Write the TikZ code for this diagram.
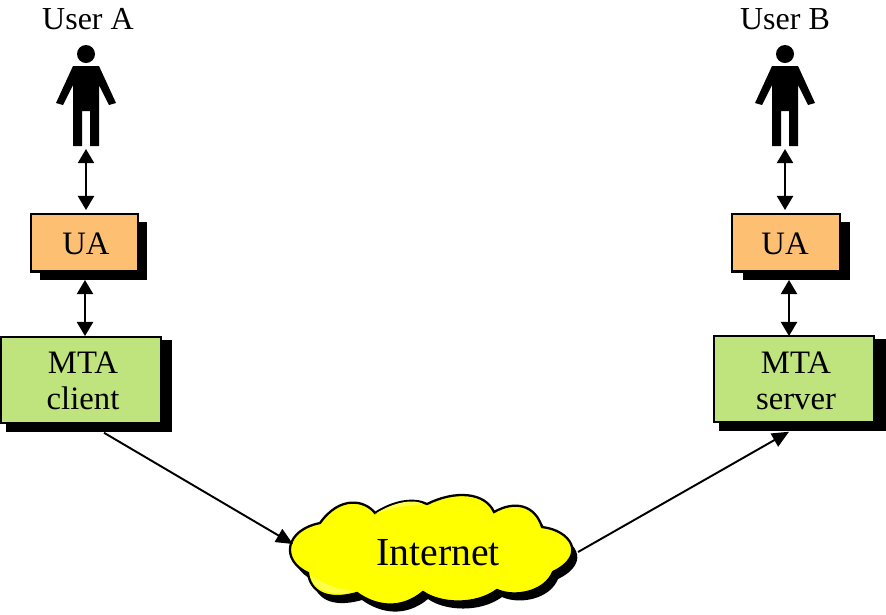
\documentclass[tikz,border=0pt]{standalone}
\usepackage{fontspec}
\setmainfont{Liberation Serif}
\usetikzlibrary{positioning,calc,arrows.meta}
\definecolor{uaorange}{HTML}{FDBF71}
\definecolor{mtagreen}{HTML}{BFE37D}
\definecolor{cloudyellow}{HTML}{FFFF00}
\definecolor{paleyellow}{HTML}{FFFF4D}
\tikzset{font=\fontsize{9.3}{10.2}\selectfont}
\tikzset{
	agentbox/.style={draw, line width=0.6pt, fill=uaorange, inner sep=0pt},
	mtabox/.style={draw, line width=0.6pt, fill=mtagreen, inner sep=0pt},
	shadowbox/.style={fill=black, inner sep=0pt},
	boxtext/.style={align=center, inner sep=0pt},
	link/.style={line width=0.5pt, {Triangle[length=4pt,width=4.6pt]}-{Triangle[length=4pt,width=4.6pt]}},
	netlink/.style={line width=0.55pt, -{Triangle[length=4.8pt,width=4.2pt]}},
	person/.pic={
		\fill (0,-32) circle (9);
		\fill (-13,-20) -- (-30,17) -- (-23,19) -- (-13,-1) -- (-13,60) -- (-4,60) -- (-4,25)
			-- (4,25) -- (4,60) -- (13,60) -- (13,-1) -- (23,19) -- (30,17) -- (13,-20) -- cycle;
	}
}
\newcommand{\cloudoutline}{
	(320,523) .. controls (340,495) and (365,500) .. (375,513)
	.. controls (395,500) and (415,498) .. (427,504)
	.. controls (455,490) and (485,492) .. (494,512)
	.. controls (515,500) and (535,505) .. (542,527)
	.. controls (570,530) and (588,555) .. (553,572)
	.. controls (545,592) and (515,598) .. (497,590)
	.. controls (475,606) and (440,604) .. (423,592)
	.. controls (400,611) and (375,606) .. (357,593)
	.. controls (325,602) and (310,590) .. (308,573)
	.. controls (280,560) and (285,530) .. (320,523) -- cycle
}

\begin{document}
\begin{tikzpicture}[x=0.01cm, y=-0.01cm]
	\useasboundingbox (0,0) rectangle (886,614);

	% users
	\node [font=\fontsize{9.1}{10}\selectfont] (usera) at (88,19) {User A};
	\node [font=\fontsize{9.1}{10}\selectfont] (userb) at (785,19) {User B};
	\pic at (86,86) {person};
	\pic at (785,86) {person};
	\coordinate (feeta) at (86,149);
	\coordinate (feetb) at (785,149);

	% shadows first
	\node [shadowbox, minimum width=1.065cm, minimum height=0.58cm] (uaashadow) at (93.25,251) {};
	\node [shadowbox, minimum width=1.07cm, minimum height=0.58cm] (uabshadow) at (796.5,251) {};
	\node [shadowbox, minimum width=1.66cm, minimum height=0.92cm] (mtaashadow) at (89,386) {};
	\node [shadowbox, minimum width=1.67cm, minimum height=0.92cm] (mtabshadow) at (802.5,385) {};

	% boxes
	\node [agentbox, minimum width=1.07cm, minimum height=0.575cm] (uaa) at (84.5,242.75) {};
	\node [agentbox, minimum width=1.08cm, minimum height=0.575cm] (uab) at (786,242.75) {};
	\node [mtabox, minimum width=1.6cm, minimum height=0.86cm] (mtaa) at (81,380) {};
	\node [mtabox, minimum width=1.6cm, minimum height=0.86cm] (mtab) at (794,379) {};
	\node [boxtext] (uaatext) at (86,244) {UA};
	\node [boxtext] (uabtext) at (785,244) {UA};
	\node [boxtext] (mtaatext) at (83,381) {MTA\\client};
	\node [boxtext] (mtabtext) at (796,381) {MTA\\server};

	% internet cloud
	\fill [shift={(5,7)}] \cloudoutline;
	\draw [line width=0.65pt, fill=cloudyellow] \cloudoutline;
	\fill [paleyellow] (375,514) .. controls (395,501) and (415,499) .. (423,504) .. controls (400,506) and (385,510) .. (375,514) -- cycle;
	\fill [paleyellow] (310,575) .. controls (325,585) and (340,590) .. (355,591) .. controls (335,597) and (315,592) .. (310,575) -- cycle;
	\node [font=\fontsize{11.3}{14}\selectfont] (internet) at (438,553) {Internet};
	\coordinate (cloudin) at (293,544);
	\coordinate (cloudout) at (578,552);

	% connectors
	\draw [link] (feeta) to (86,210);
	\draw [link] (feetb) to (785,210);
	\draw [link] (85,280) to (85,336);
	\draw [link] (789,280) to (789,336);
	\draw [netlink] (mtaashadow.south -| 104,0) to (cloudin);
	\draw [netlink] (cloudout) to (mtabshadow.south -| 789,0);
\end{tikzpicture}
\end{document}
